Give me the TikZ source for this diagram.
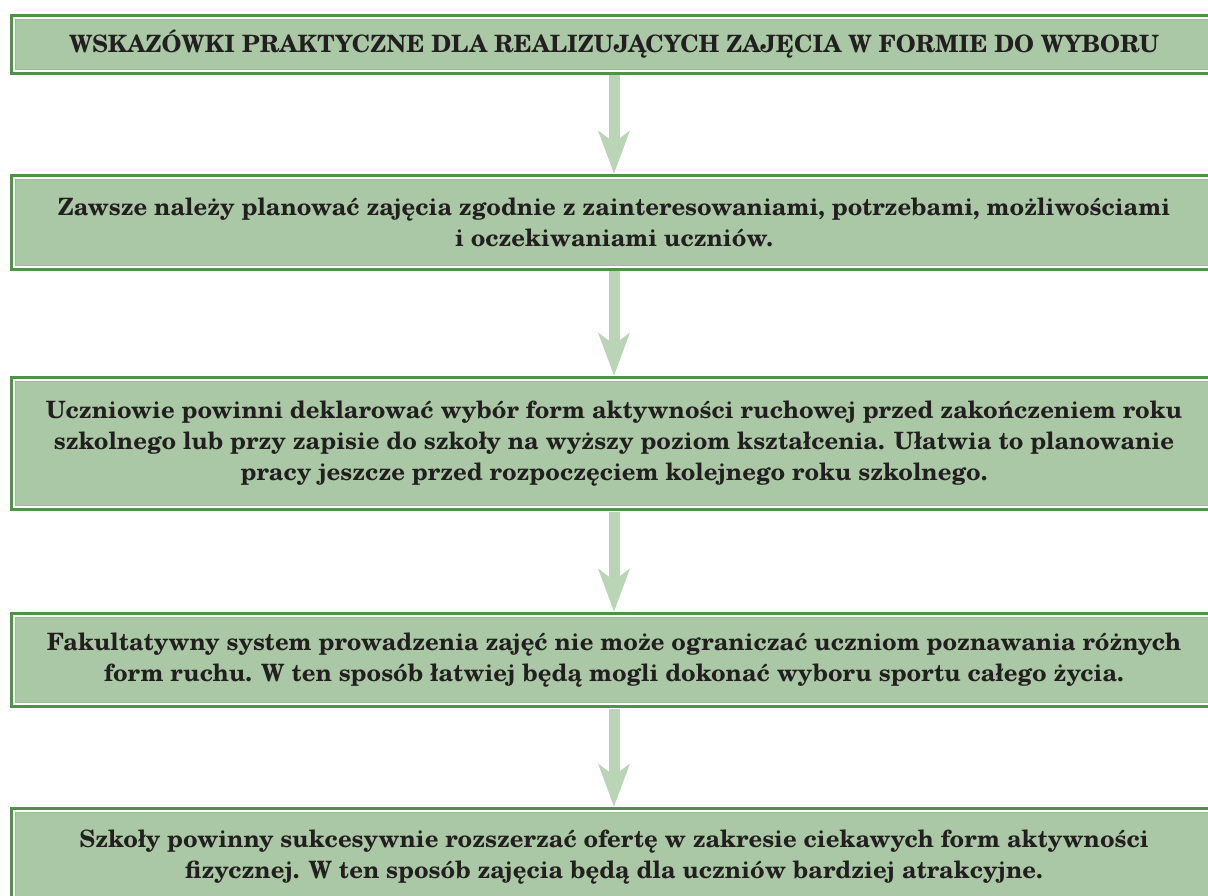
\documentclass[tikz,border=0pt]{standalone}
\usepackage{fontspec}
\setmainfont{TeX Gyre Schola}
\usetikzlibrary{arrows.meta}
\definecolor{dgreen}{HTML}{4F9249}
\definecolor{boxfill}{HTML}{AAC8A5}
\definecolor{lline}{HTML}{98C093}
\definecolor{arrowcol}{HTML}{BAD4B6}
\definecolor{txt}{HTML}{231F20}
\tikzset{
  box/.style={preaction={draw=dgreen, line width=11pt},
              preaction={draw=white, line width=5pt},
              fill=boxfill, draw=lline, line width=1pt,
              minimum width=1197pt, inner sep=0pt, outer sep=6pt,
              align=center, text=txt,
              font=\fontsize{23.9}{31}\selectfont\bfseries},
  flow/.style={draw=arrowcol, line width=11pt,
               -{Stealth[length=43pt, width=32pt, inset=12pt, line width=0pt]}}
}
\begin{document}
\begin{tikzpicture}[x=1pt, y=1pt]
\useasboundingbox (0,0) rectangle (1208,-896);
\node[box, minimum height=50pt] (b1) at (614,-44.5)
  {WSKAZÓWKI PRAKTYCZNE DLA REALIZUJĄCYCH ZAJĘCIA W FORMIE DO WYBORU};
\node[box, minimum height=86pt] (b2) at (614,-222.5)
  {Zawsze należy planować zajęcia zgodnie z zainteresowaniami, potrzebami, możliwościami\\
   i oczekiwaniami uczniów.};
\node[box, minimum height=124pt] (b3) at (614,-443.5)
  {Uczniowie powinni deklarować wybór form aktywności ruchowej przed zakończeniem roku\\
   szkolnego lub przy zapisie do szkoły na wyższy poziom kształcenia. Ułatwia to planowanie\\
   pracy jeszcze przed rozpoczęciem kolejnego roku szkolnego.};
\node[box, minimum height=85pt] (b4) at (614,-660)
  {Fakultatywny system prowadzenia zajęć nie może ograniczać uczniom poznawania różnych\\
   form ruchu. W ten sposób łatwiej będą mogli dokonać wyboru sportu całego życia.};
\node[box, minimum height=89pt] (b5) at (614,-857)
  {Szkoły powinny sukcesywnie rozszerzać ofertę w zakresie ciekawych form aktywności\\
   fizycznej. W ten sposób zajęcia będą dla uczniów bardziej atrakcyjne.};
\draw[flow] (b1.south) -- (b2.north);
\draw[flow] (b2.south) -- (b3.north);
\draw[flow] (b3.south) -- (b4.north);
\draw[flow] (b4.south) -- (b5.north);
\end{tikzpicture}
\end{document}
